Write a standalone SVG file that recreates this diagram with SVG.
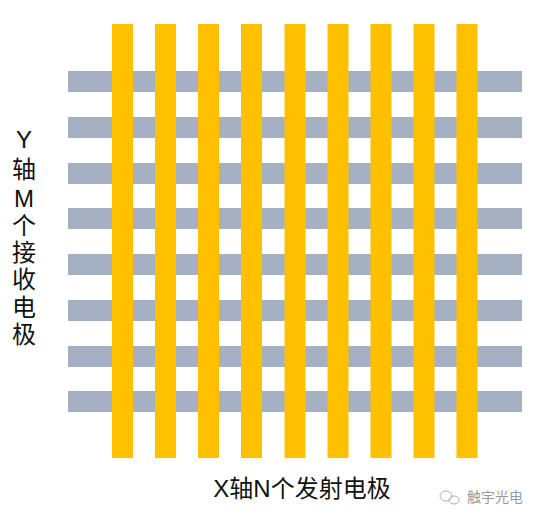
<svg xmlns="http://www.w3.org/2000/svg" width="536" height="520" viewBox="0 0 536 520">
<style>
.g{fill:#A6B0C3}
.y{fill:#FFC000}
.t{font-family:"Liberation Sans","Noto Sans CJK SC",sans-serif;font-size:24px;fill:#111}
.w{font-family:"Noto Sans CJK SC",sans-serif;font-size:14px;fill:#9a9a9a}
</style>
<rect width="536" height="520" fill="#fff"/>
<g id="receivers">
<rect class="g" x="68" y="71" width="454" height="21"/>
<rect class="g" x="68" y="117" width="454" height="21"/>
<rect class="g" x="68" y="163" width="454" height="21"/>
<rect class="g" x="68" y="208" width="454" height="21"/>
<rect class="g" x="68" y="254" width="454" height="21"/>
<rect class="g" x="68" y="300" width="454" height="21"/>
<rect class="g" x="68" y="346" width="454" height="21"/>
<rect class="g" x="68" y="391" width="454" height="21"/>
</g>
<g id="emitters">
<rect class="y" x="112" y="24" width="21" height="434"/>
<rect class="y" x="155" y="24" width="21" height="434"/>
<rect class="y" x="198" y="24" width="21" height="434"/>
<rect class="y" x="241" y="24" width="21" height="434"/>
<rect class="y" x="284.5" y="24" width="21" height="434"/>
<rect class="y" x="327.5" y="24" width="21" height="434"/>
<rect class="y" x="370.5" y="24" width="21" height="434"/>
<rect class="y" x="413.5" y="24" width="21" height="434"/>
<rect class="y" x="456.5" y="24" width="21" height="434"/>
</g>
<g id="y-label" class="t" text-anchor="middle">
<text x="24" y="148">Y</text>
<text x="24" y="178">轴</text>
<text x="24" y="207">M</text>
<text x="24" y="234">个</text>
<text x="24" y="261">接</text>
<text x="24" y="288">收</text>
<text x="24" y="316">电</text>
<text x="24" y="343">极</text>
</g>
<g id="x-label">
<text class="t" x="302" y="497" text-anchor="middle">X轴N个发射电极</text>
</g>
<g id="watermark">
<ellipse cx="446" cy="496" rx="6" ry="5" fill="none" stroke="#b0b0b0" stroke-width="1"/>
<ellipse cx="454" cy="500" rx="5" ry="4" fill="none" stroke="#b0b0b0" stroke-width="1"/>
<text class="w" x="467" y="502">触宇光电</text>
</g>
</svg>
